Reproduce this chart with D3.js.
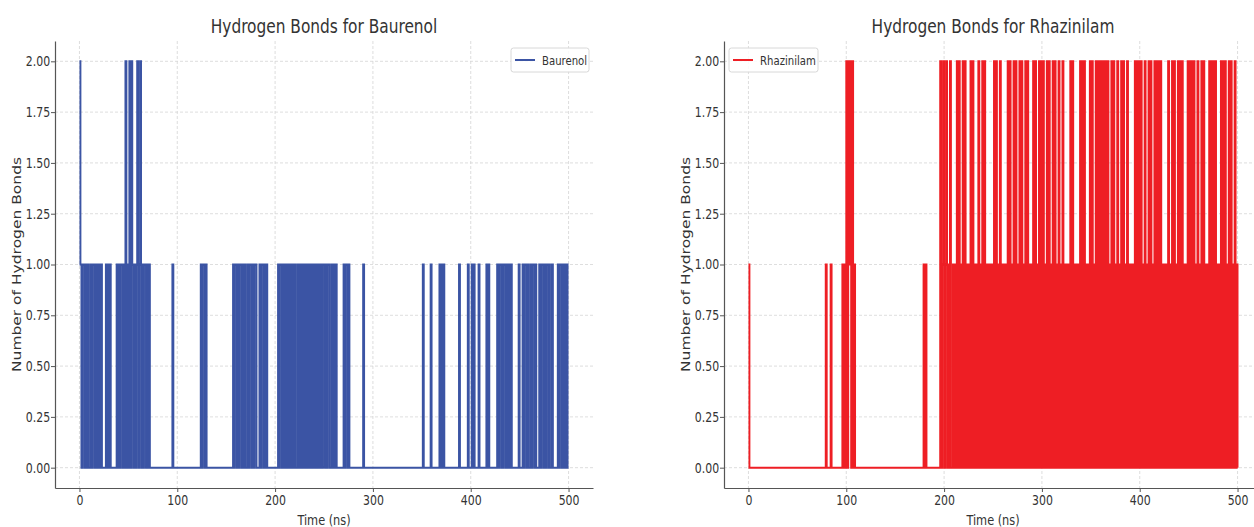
<!DOCTYPE html>
<html>
<head>
<meta charset="utf-8">
<script src="https://cdn.jsdelivr.net/npm/d3@7"></script>
<style>
  body { margin: 0; background: #fff; }
  text { font-family: 'DejaVu Sans', sans-serif; fill: #333; }
</style>
</head>
<body>
<div id="container"></div>
<script>
// number of hydrogen bonds, one value per ns from 0 to 500 (groups of 10 ns)
const baurenolRows = [
    '2101101010 0101101010 1010000101 0100000010 1011010201',
    '0202101012 0120101101 0100000000 0000000000 0000010000',
    '0000000000 0000000000 0000101101 0000000000 0000000000',
    '0000000101 1010110101 0010110101 1000101101 0100000000',
    '0001011010 1010101010 1001010101 0101010101 0101010101',
    '1010110010 1010000000 1011010000 0000000000 1000000000',
    '0000000000 0000000000 0000000000 0000000000 0000000000',
    '0100000001 0000000010 1010000000 0000000010 0000000100',
    '0101000010 0000001010 0000000101 1010110101 0100000001',
    '0001011010 0101101000 1011010110 1001000001 0110101010',
    '0'
];
const rhazinilamRows = [
    '1000000000 0000000000 0000000000 0000000000 0000000000',
    '0000000000 0000000000 0000000001 0000100000 0000001010',
    '2021202010 0000000000 0000000000 0000000000 0000000000',
    '0000000000 0000000000 0000000001 0100000000 0000002012',
    '0120102001 0102020102 0201010202 0101020102 0201010101',
    '0202010201 0101020201 0202010202 0102020101 0202010202',
    '0201020201 0202010201 0201010102 0201010102 0202010102',
    '0201020202 0202020201 0202010201 0202010201 0101020202',
    '0201020102 0201020202 0201010102 0102020102 0202010102',
    '0202020102 0102020101 0202020201 0102020201 0202010201',
    '0'
];
const seriesNames = ['Baurenol', 'Rhazinilam'];
const seriesColors = ['#3b54a4', '#ee1e24'];
const xTicks = [0, 100, 200, 300, 400, 500];
const yTicks = [0, 0.25, 0.5, 0.75, 1, 1.25, 1.5, 1.75, 2];

const toSeries = rows => rows.join('').replace(/\s/g, '').split('').map(Number);

const W = 1254, H = 527;
const SX = 0.81;  // the picture is squeezed sideways, so is the text

const svg = d3.select('#container')
    .append('svg')
    .attr('width', W)
    .attr('height', H)
    .style('display', 'block');

function addText(g, x, y, str, size, anchor) {
    return g.append('text')
        .attr('transform', `translate(${x},${y}) scale(${SX},1)`)
        .attr('text-anchor', anchor)
        .style('font-size', size + 'px')
        .text(str);
}

const panels = [
    {name: seriesNames[0], color: seriesColors[0], values: toSeries(baurenolRows), left: 55, legendRight: true},
    {name: seriesNames[1], color: seriesColors[1], values: toSeries(rhazinilamRows), left: 724, legendRight: false}
];

const plotTop = 41, plotBottom = 488, plotW = 538;

panels.forEach(p => {
    const x = d3.scaleLinear().domain([-25, 525]).range([p.left, p.left + plotW]);
    const y = d3.scaleLinear().domain([-0.1, 2.1]).range([plotBottom, plotTop]);
    const g = svg.append('g');

    // grid
    g.selectAll('.vgrid').data(xTicks).enter().append('line')
        .attr('x1', d => x(d)).attr('x2', d => x(d))
        .attr('y1', plotTop).attr('y2', plotBottom)
        .attr('stroke', '#d6d6d6').attr('stroke-width', 0.8)
        .attr('stroke-dasharray', '3,2');
    g.selectAll('.hgrid').data(yTicks).enter().append('line')
        .attr('x1', p.left).attr('x2', p.left + plotW)
        .attr('y1', d => y(d)).attr('y2', d => y(d))
        .attr('stroke', '#d6d6d6').attr('stroke-width', 0.8)
        .attr('stroke-dasharray', '3,2');

    // data: bond count switches sharply from one ns to the next
    const line = d3.line()
        .x((d, i) => x(i))
        .y(d => y(d))
        .curve(d3.curveStepAfter);
    g.append('path')
        .datum(p.values)
        .attr('d', line)
        .attr('fill', 'none')
        .attr('stroke', p.color)
        .attr('stroke-width', 1.9);

    // axes
    const xAxis = g.append('g')
        .attr('transform', `translate(0,${plotBottom})`)
        .call(d3.axisBottom(x).tickValues(xTicks).tickSize(4).tickPadding(3).tickSizeOuter(0));
    const yAxis = g.append('g')
        .attr('transform', `translate(${p.left},0)`)
        .call(d3.axisLeft(y).tickValues(yTicks).tickFormat(d3.format('.2f')).tickSize(4).tickPadding(2).tickSizeOuter(0));
    [xAxis, yAxis].forEach(a => {
        a.select('.domain').attr('stroke', '#555').attr('stroke-width', 1.2);
        a.selectAll('.tick line').attr('stroke', '#555');
        a.selectAll('.tick text')
            .style('font-family', "'DejaVu Sans', sans-serif")
            .style('font-size', '13.5px')
            .attr('fill', '#333');
    });
    xAxis.selectAll('.tick text').attr('transform', `scale(${SX},1)`);
    yAxis.selectAll('.tick text').attr('transform', `scale(${SX},1)`);

    // labels
    const cx = p.left + plotW / 2;
    addText(g, cx, 33, 'Hydrogen Bonds for ' + p.name, 19, 'middle');
    addText(g, x(250), 525, 'Time (ns)', 14, 'middle');
    g.append('text')
        .attr('transform', `translate(${p.left - 34},${(plotTop + plotBottom) / 2}) rotate(-90) scale(1,${SX})`)
        .attr('text-anchor', 'middle')
        .style('font-size', '15.5px')
        .text('Number of Hydrogen Bonds');

    // legend
    const lw = p.legendRight ? 78 : 89;
    const lx = p.legendRight ? p.left + plotW - 4 - lw : p.left + 5;
    const lg = g.append('g').attr('transform', `translate(${lx},48)`);
    lg.append('rect')
        .attr('width', lw).attr('height', 24).attr('rx', 2.5)
        .attr('fill', '#fff').attr('fill-opacity', 0.85)
        .attr('stroke', '#d8d8d8').attr('stroke-width', 1);
    lg.append('line')
        .attr('x1', 4).attr('x2', 24).attr('y1', 12).attr('y2', 12)
        .attr('stroke', p.color).attr('stroke-width', 2);
    addText(lg, 31, 16.5, p.name, 12.5, 'start');
});
</script>
</body>
</html>
